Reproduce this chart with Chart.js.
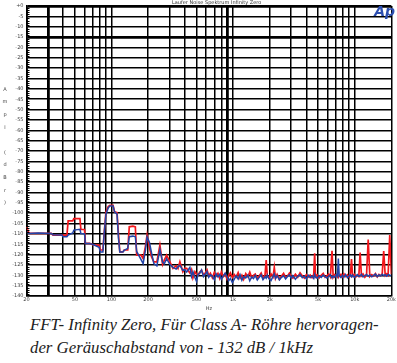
<!DOCTYPE html>
<html>
<head>
<meta charset="utf-8">
<script src="https://cdn.jsdelivr.net/npm/chart.js@4.4.1/dist/chart.umd.min.js"></script>
<style>
  html, body { margin: 0; padding: 0; background: #fff; }
  #wrap { position: relative; width: 397px; height: 363px; overflow: hidden; }
  #c { position: absolute; left: 0; top: 0; }
  #caption { position: absolute; left: 30px; top: 313px; font-family: 'Liberation Serif', 'DejaVu Serif', serif;
    font-style: italic; font-size: 16.8px; line-height: 23px; color: #222; white-space: nowrap; }
</style>
</head>
<body>
<div id="wrap">
  <canvas id="c" width="397" height="312"></canvas>
  <div id="caption">FFT- Infinity Zero, Für Class A- Röhre hervoragen-<br>der Geräuschabstand von - 132 dB / 1kHz</div>
</div>
<script>
// ---- data (frequency in Hz, level in dBr) ----
const lowFreq = [
  20, 21, 25, 32, 33, 39, 40, 43,
  44, 48, 49, 55, 56, 60, 61, 66,
  72, 79, 81, 85, 87, 90, 94, 97,
  103, 106, 111, 114, 117, 124, 127, 136,
  140, 150, 157, 161, 175, 182, 190, 196,
  205, 213, 223, 236, 250, 263, 272, 284,
  302, 320, 340, 352, 365, 386, 400, 415,
  441, 455, 467, 485, 500, 514
];
const lowRed = [
  -106.6, -109.8, -109.8, -109.8, -110.6, -110.6, -110.6, -110.6,
  -103.7, -103.7, -102.6, -102.6, -107.9, -107.9, -114.6, -114.6,
  -115.4, -115.4, -117.8, -117.8, -109.8, -99.4, -96.8, -96.2,
  -96.2, -99.4, -99.8, -110.0, -118.7, -118.7, -117.8, -117.8,
  -106.6, -106.3, -106.6, -120.3, -120.3, -122.0, -116.0, -110.6,
  -116.5, -121.0, -123.5, -123.5, -115.4, -124.8, -122.6, -120.3,
  -123.5, -126.7, -125.4, -126.7, -123.5, -128.3, -126.7, -126.7,
  -128.9, -127.2, -131.3, -128.3, -129.5, -129.9
];
const lowBlue = [
  -109.0, -109.8, -109.6, -109.8, -110.4, -110.6, -111.4, -111.4,
  -110.6, -109.6, -108.2, -107.8, -109.8, -110.0, -114.6, -114.6,
  -115.4, -116.5, -118.7, -118.7, -109.8, -100.5, -97.5, -96.5,
  -96.5, -99.4, -100.5, -112.0, -118.7, -118.7, -118.0, -117.0,
  -111.4, -111.1, -111.4, -118.5, -122.4, -124.4, -118.0, -111.5,
  -114.0, -119.0, -124.4, -125.5, -117.5, -123.6, -124.4, -122.0,
  -124.8, -126.2, -127.0, -125.9, -125.2, -127.6, -127.3, -128.4,
  -126.2, -130.6, -128.3, -131.1, -133.0, -129.5
];
const highFreq = [
  530, 550, 570, 590, 610, 630, 650, 675, 700, 725,
  750, 775, 800, 830, 860, 890, 920, 950, 985, 1020,
  1060, 1100, 1140, 1180, 1220, 1270, 1320, 1370, 1420, 1470,
  1520, 1580, 1640, 1700, 1760, 1830, 1870, 1910, 1970, 2050,
  2130, 2180, 2230, 2300, 2400, 2500, 2600, 2700, 2800, 2900,
  3000, 3100, 3250, 3400, 3550, 3700, 3850, 4000, 4150, 4300,
  4450, 4600, 4680, 4760, 4900, 5100, 5300, 5500, 5700, 5900,
  6100, 6300, 6500, 6650, 6850, 7050, 7200, 7330, 7450, 7700,
  7900, 8150, 8400, 8700, 9000, 9200, 9400, 9600, 9900, 10200,
  10500, 10800, 11070, 11350, 11700, 12100, 12500, 12900, 13300, 13800,
  14300, 14800, 15300, 15800, 16300, 16800, 17300, 17800, 18300, 18800,
  19400, 20000
];
const highRed = [
  -128.5, -127.6, -129.8, -128.9, -127.4, -130.2, -129.0, -131.2, -128.6, -130.4,
  -129.1, -131.5, -128.4, -130.6, -129.3, -131.8, -130.1, -128.8, -131.0, -129.6,
  -130.9, -128.7, -131.4, -129.9, -132.0, -129.2, -130.7, -128.5, -131.1, -130.0,
  -129.4, -131.6, -130.2, -128.9, -131.3, -129.7, -122.7, -130.5, -131.2, -129.3,
  -130.8, -126.2, -131.5, -129.6, -131.9, -130.4, -129.1, -131.0, -130.3, -129.0,
  -130.6, -131.4, -129.5, -130.9, -128.8, -130.2, -131.3, -129.7, -130.8, -129.9,
  -131.1, -129.6, -119.4, -130.7, -129.8, -131.2, -130.0, -129.1, -130.9, -130.3,
  -129.4, -130.8, -118.2, -131.0, -129.7, -130.5, -129.2, -130.9, -130.1, -129.5,
  -130.7, -129.3, -130.6, -129.8, -131.0, -130.2, -122.2, -130.4, -129.6, -130.8,
  -129.9, -130.5, -119.0, -130.3, -129.4, -130.9, -129.8, -112.7, -130.6, -129.7,
  -130.4, -129.2, -130.8, -129.6, -130.2, -129.5, -118.3, -130.1, -129.3, -130.0,
  -110.6, -129.5
];
const highBlue = [
  -129.2, -127.4, -130.6, -129.5, -128.2, -131.0, -129.8, -130.4, -132.1, -129.3,
  -130.8, -129.6, -131.9, -130.3, -128.9, -130.7, -132.6, -131.5, -133.5, -132.0,
  -130.2, -131.8, -129.7, -132.4, -130.6, -131.3, -129.9, -132.7, -130.8, -131.6,
  -130.1, -132.3, -131.0, -129.8, -132.1, -130.7, -131.4, -129.9, -131.7, -132.5,
  -130.4, -129.3, -131.6, -130.2, -132.2, -131.0, -130.3, -131.8, -130.6, -129.8,
  -131.3, -130.1, -131.9, -130.5, -129.7, -131.2, -130.4, -131.7, -130.0, -131.1,
  -130.3, -131.5, -129.6, -130.8, -131.4, -130.2, -131.0, -129.9, -130.7, -131.3,
  -130.5, -129.8, -131.2, -130.4, -131.0, -129.7, -130.6, -121.9, -130.3, -131.1,
  -130.0, -130.9, -129.6, -131.2, -130.3, -129.8, -130.7, -129.9, -131.0, -130.4,
  -129.7, -130.6, -130.2, -129.5, -130.8, -130.1, -129.6, -130.5, -129.9, -130.7,
  -130.0, -129.4, -130.6, -129.8, -130.3, -129.5, -130.1, -129.7, -130.4, -129.6,
  -129.9, -130.2
];

// ---- ticks ----
const xGridFreqs = [20, 30, 40, 50, 60, 70, 80, 90, 100, 200, 300, 400, 500, 600, 700, 800, 900,
  1000, 2000, 3000, 4000, 5000, 6000, 7000, 8000, 9000, 10000, 20000];
const xLabelFreqs = [20, 50, 100, 200, 500, 1000, 2000, 5000, 10000, 20000];
const xLabelTexts = ['20', '50', '100', '200', '500', '1k', '2k', '5k', '10k', '20k'];
const yTickValues = [0, -5, -10, -15, -20, -25, -30, -35, -40, -45, -50, -55, -60, -65, -70,
  -75, -80, -85, -90, -95, -100, -105, -110, -115, -120, -125, -130, -135, -140];
const yTickLabels = ['+0', '-5', '-10', '-15', '-20', '-25', '-30', '-35', '-40', '-45', '-50', '-55', '-60', '-65', '-70',
  '-75', '-80', '-85', '-90', '-95', '-100', '-105', '-110', '-115', '-120', '-125', '-130', '-135', '-140'];
const thickX = [30, 900];
const thickY = [0, -15];
const titleText = 'Laufer Noise Spektrum Infinity Zero';
const yTitleText = 'Ampl (dBr)';
const xTitleText = 'Hz';

const freqs = lowFreq.concat(highFreq);
const red = lowRed.concat(highRed);
const blue = lowBlue.concat(highBlue);
const pts = (vals) => freqs.map((f, i) => ({ x: f, y: vals[i] }));

const decor = {
  id: 'decor',
  afterDraw(chart) {
    const { ctx, chartArea: a, scales } = chart;
    const ys = scales.y;
    ctx.save();
    ctx.strokeStyle = '#000';
    ctx.lineWidth = 1;
    for (let v = -140; v <= 0; v += 1) {
      if (v % 5 === 0) continue;
      const py = Math.round(ys.getPixelForValue(v)) + 0.5;
      ctx.beginPath();
      ctx.moveTo(a.left, py);
      ctx.lineTo(a.left + 3, py);
      ctx.stroke();
    }
    ctx.fillStyle = '#333';
    ctx.font = '5px "DejaVu Sans", sans-serif';
    ctx.textBaseline = 'top';
    ctx.textAlign = 'left';
    ctx.fillText(titleText, 172, 0);
    ctx.fillStyle = '#444';
    ctx.textAlign = 'center';
    const chars = yTitleText.split('');
    const step = 126 / chars.length;
    chars.forEach((ch, i) => ctx.fillText(ch, 5, 87 + i * step));
    ctx.fillStyle = '#2d4fb0';
    ctx.font = 'italic bold 14px "DejaVu Sans", sans-serif';
    ctx.textAlign = 'right';
    ctx.fillText('Ap', 395, 5);
    ctx.restore();
  }
};

new Chart(document.getElementById('c'), {
  type: 'line',
  data: {
    datasets: [
      { label: 'B', data: pts(blue), borderColor: '#2244a8', borderWidth: 1.5, pointRadius: 0, tension: 0 },
      { label: 'A', data: pts(red), borderColor: '#f2161b', borderWidth: 1.7, pointRadius: 0, tension: 0 }
    ]
  },
  options: {
    responsive: false,
    animation: false,
    layout: { padding: { top: 5, right: 3, left: 0, bottom: 0 } },
    plugins: { legend: { display: false }, tooltip: { enabled: false } },
    scales: {
      x: {
        type: 'logarithmic', min: 20, max: 20000,
        afterBuildTicks: (s) => { s.ticks = xGridFreqs.map(v => ({ value: v })); },
        afterFit: (s) => { s.height = 16; },
        ticks: {
          autoSkip: false, maxRotation: 0, padding: 1, color: '#444',
          font: { size: 5, family: 'DejaVu Sans' },
          callback: (v) => { const i = xLabelFreqs.indexOf(v); return i >= 0 ? xLabelTexts[i] : ''; }
        },
        grid: {
          color: '#000', drawTicks: false,
          lineWidth: (c) => (c.tick && thickX.includes(c.tick.value)) ? 2.8 : 1.5
        },
        border: { display: true, color: '#000', width: 1.5 },
        title: { display: true, text: xTitleText, color: '#444', font: { size: 5, family: 'DejaVu Sans' }, padding: 0 }
      },
      y: {
        type: 'linear', min: -140, max: 0,
        afterFit: (s) => { s.width = 26.5; },
        ticks: {
          stepSize: 5, padding: 3, color: '#444',
          font: { size: 5, family: 'DejaVu Sans' },
          callback: (v) => { const i = yTickValues.indexOf(v); return i >= 0 ? yTickLabels[i] : ''; }
        },
        grid: {
          color: '#000', drawTicks: false,
          lineWidth: (c) => (c.tick && thickY.includes(c.tick.value)) ? 2.8 : 1.5
        },
        border: { display: true, color: '#000', width: 1.8 }
      }
    }
  },
  plugins: [decor]
});
</script>
</body>
</html>
